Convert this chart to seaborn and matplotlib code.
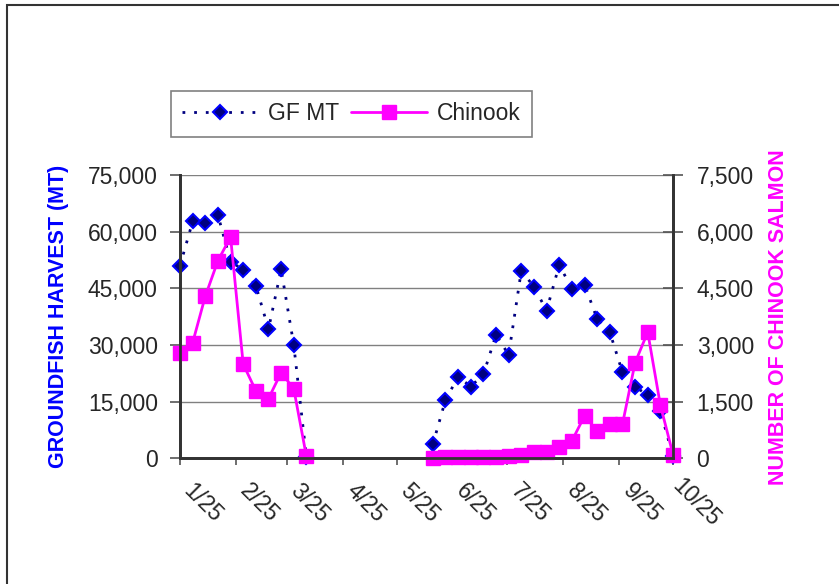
import seaborn as sns
import matplotlib.pyplot as plt
import matplotlib.transforms as mtransforms
from matplotlib.lines import Line2D
from matplotlib.patches import Rectangle
from matplotlib.ticker import FuncFormatter
import pandas as pd

# weekly values, two seasons (non-leap year so the month ticks space right)
season_a_start = '2003-01-25'
season_b_start = '2003-06-14'
gf_mt_a = [51000, 62700, 62200, 64400, 52100, 49900, 45700, 34200, 50000, 30000, 300]
chinook_a = [2800, 3060, 4290, 5230, 5860, 2490, 1790, 1580, 2270, 1840, 50]
gf_mt_b = [3700, 15400, 21600, 19000, 22200, 32700, 27400, 49700, 45400, 39100,
           51200, 44900, 46000, 36900, 33400, 22800, 18900, 16800, 12600, 500]
chinook_b = [0, 30, 40, 40, 40, 40, 50, 90, 160, 170,
             310, 460, 1120, 730, 900, 900, 2530, 3340, 1410, 100]

x_tick_labels = ['1/25', '2/25', '3/25', '4/25', '5/25', '6/25', '7/25', '8/25', '9/25', '10/25']
gf_ticks = [0, 15000, 30000, 45000, 60000, 75000]
chinook_ticks = [0, 1500, 3000, 4500, 6000, 7500]

dates_a = pd.date_range(season_a_start, periods=len(gf_mt_a), freq='7D')
dates_b = pd.date_range(season_b_start, periods=len(gf_mt_b), freq='7D')
df = pd.DataFrame({
    'date': list(dates_a) + list(dates_b),
    'gf': gf_mt_a + gf_mt_b,
    'chinook': chinook_a + chinook_b,
    'season': ['a'] * len(dates_a) + ['b'] * len(dates_b),
})
tick_dates = pd.to_datetime([t + '/2003' for t in x_tick_labels], format='%m/%d/%Y')

sns.set_style('white')
plt.rcParams['font.family'] = ['Liberation Sans', 'DejaVu Sans']

NAVY = '#000080'
BLUE = '#0000FF'
MAG = '#FF00FF'
AXC = '#333333'
DOTS = (0, (1.0, 3.2))

fig = plt.figure(figsize=(8.39, 5.84), dpi=100)
ax = fig.add_axes([180 / 839, 1 - 458.3 / 584, 493 / 839, 283.3 / 584])
ax2 = ax.twinx()

sns.lineplot(data=df, x='date', y='gf', units='season', estimator=None, sort=False,
             ax=ax, color=NAVY, linestyle=DOTS, linewidth=2,
             marker='D', markersize=7.5, markerfacecolor=NAVY,
             markeredgecolor=BLUE, markeredgewidth=1.5, clip_on=False)
sns.lineplot(data=df, x='date', y='chinook', units='season', estimator=None, sort=False,
             ax=ax2, color=MAG, linewidth=2,
             marker='s', markersize=9.5, markerfacecolor=MAG,
             markeredgecolor=MAG, markeredgewidth=1, clip_on=False)

ax.set_xlim(tick_dates[0], tick_dates[-1])
ax.set_ylim(gf_ticks[0], gf_ticks[-1])
ax2.set_ylim(chinook_ticks[0], chinook_ticks[-1])
ax.set_yticks(gf_ticks)
ax2.set_yticks(chinook_ticks)
ax.set_xticks(tick_dates)
ax.set_xticklabels(x_tick_labels)
comma = FuncFormatter(lambda v, _: f'{v:,.0f}')
ax.yaxis.set_major_formatter(comma)
ax2.yaxis.set_major_formatter(comma)

ax.yaxis.grid(True, color='#808080', linewidth=1)
ax.xaxis.grid(False)
ax.set_axisbelow(True)

for a in (ax, ax2):
    a.spines['top'].set_visible(False)
    for s in ('left', 'right', 'bottom'):
        a.spines[s].set_color(AXC)
        a.spines[s].set_linewidth(2)

ax.tick_params(axis='y', left=True, direction='out', length=7, width=1.2,
               color='#555555', labelsize=16.5, pad=9)
ax2.tick_params(axis='y', right=True, direction='inout', length=14, width=1.2,
                color='#555555', labelsize=16.5, pad=10)
ax.tick_params(axis='x', bottom=True, direction='out', length=5, width=1.2,
               color='#555555', labelsize=16.5, pad=27)

ax.set_xlabel('')
ax.set_ylabel('GROUNDFISH HARVEST (MT)', color=BLUE, fontsize=15.5,
              fontweight='bold', va='center')
ax.yaxis.set_label_coords(-0.247, 0.5)
ax2.set_ylabel('NUMBER OF CHINOOK SALMON', color=MAG, fontsize=15.5,
               fontweight='bold', va='center')
ax2.yaxis.set_label_coords(1.215, 0.5)

shift = mtransforms.ScaledTranslation(0.23, 0, fig.dpi_scale_trans)
for lbl in ax.get_xticklabels():
    lbl.set_rotation(-45)
    lbl.set_rotation_mode('anchor')
    lbl.set_ha('center')
    lbl.set_va('center')
    lbl.set_transform(lbl.get_transform() + shift)

handles = [
    Line2D([], [], color=NAVY, linestyle=DOTS, linewidth=2, marker='D',
           markersize=7.5, markerfacecolor=NAVY, markeredgecolor=BLUE, markeredgewidth=1.5),
    Line2D([], [], color=MAG, linewidth=2, marker='s', markersize=9.5,
           markerfacecolor=MAG, markeredgecolor=MAG),
]
leg = fig.legend(handles, ['GF MT', 'Chinook'], loc='upper left',
                 bbox_to_anchor=(171 / 839, 1 - 91 / 584), ncol=2, fontsize=16.5,
                 frameon=True, fancybox=False, framealpha=1, edgecolor='#808080',
                 borderaxespad=0, borderpad=0.5, handlelength=3.3,
                 handletextpad=0.45, columnspacing=0.5)
leg.get_frame().set_linewidth(1.2)

# outer chart border (only left and top edges are in the frame)
fig.add_artist(Rectangle((6.5 / 839, -0.1), 2, 0.1 + (584 - 5) / 584,
                         transform=fig.transFigure, fill=False,
                         edgecolor='#333333', linewidth=1.5))

fig.savefig('out.png', dpi=100)
